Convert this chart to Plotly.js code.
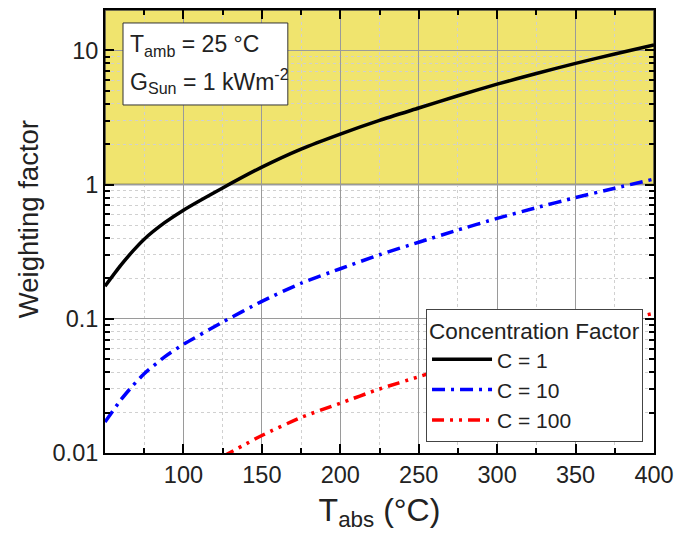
<!DOCTYPE html>
<html>
<head>
<meta charset="utf-8">
<script src="https://cdn.plot.ly/plotly-3.0.1.min.js"></script>
<style>html,body{margin:0;padding:0;background:#fff;}#chart{width:675px;height:536px;}</style>
</head>
<body>
<div id="chart"></div>
<script>
// Absorber temperature (°C)
const tAbs = [50, 60, 68, 75, 88, 100, 125, 150, 175, 200, 225, 250, 275, 300, 325, 350, 375, 400];
// Weighting factor for C = 1
const wC1 = [0.175, 0.25, 0.322, 0.392, 0.52, 0.645, 0.944, 1.35, 1.84, 2.38, 3.01, 3.72, 4.59, 5.6, 6.73, 8.0, 9.4, 11.0];
// Weighting factor for C = 10
const wC10 = [0.017, 0.0248, 0.032, 0.039, 0.052, 0.0645, 0.0944, 0.135, 0.184, 0.236, 0.30, 0.372, 0.459, 0.56, 0.673, 0.80, 0.94, 1.10];
// C = 100 (visible only above 0.01)
const tAbs100 = [125, 150, 175, 200, 225, 250, 275, 300, 325, 350, 375, 400];
const wC100 = [0.0094, 0.0135, 0.0184, 0.0235, 0.030, 0.037, 0.046, 0.056, 0.067, 0.081, 0.095, 0.110];

const seriesNames = ['C = 1', 'C = 10', 'C = 100'];
const xTicks = [50, 100, 150, 200, 250, 300, 350, 400];
const xTickText = ['', '100', '150', '200', '250', '300', '350', '400'];
const yTicks = [0.01, 0.1, 1, 10];
const yTickText = ['0.01', '0.1', '1', '10'];
const shadeFrom = 1, shadeTo = 20;

const font = 'Liberation Sans, Arial, sans-serif';

const traces = [
  {x: tAbs, y: wC1, name: seriesNames[0], mode: 'lines',
   line: {color: '#000000', width: 3.5, shape: 'spline', smoothing: 0.6}},
  {x: tAbs, y: wC10, name: seriesNames[1], mode: 'lines',
   line: {color: '#0000ff', width: 3.5, dash: '13px,6px,3px,6px', shape: 'spline', smoothing: 0.6}},
  {x: tAbs100, y: wC100, name: seriesNames[2], mode: 'lines',
   line: {color: '#ff0000', width: 3.5, dash: '12px,6px,3px,6px,3px,6px', shape: 'spline', smoothing: 0.6}}
];

const layout = {
  width: 675, height: 536,
  margin: {l: 105, r: 21, t: 10, b: 83},
  paper_bgcolor: '#ffffff', plot_bgcolor: '#ffffff',
  font: {family: font, size: 20, color: '#222'},
  showlegend: true,
  xaxis: {
    range: [50, 400], tickvals: xTicks, ticktext: xTickText,
    ticks: 'inside', ticklen: 9, tickwidth: 2, tickcolor: '#000',
    showline: true, linecolor: '#000', linewidth: 2, mirror: 'ticks',
    showgrid: true, gridcolor: '#9a9a9a', gridwidth: 1,
    zeroline: false,
    tickfont: {size: 23.5, color: '#222'},
    minor: {dtick: 25, tick0: 50, ticks: 'inside', ticklen: 5, tickwidth: 2, tickcolor: '#000',
            showgrid: true, gridcolor: '#d0d0d0', griddash: 'dot', gridwidth: 1},
    title: {text: 'T<sub>abs</sub> (°C)', font: {size: 32, color: '#222'}, standoff: 11}
  },
  yaxis: {
    type: 'log', range: [-2, Math.log10(20)],
    tickvals: yTicks, ticktext: yTickText,
    ticks: 'inside', ticklen: 9, tickwidth: 2, tickcolor: '#000',
    showline: true, linecolor: '#000', linewidth: 2, mirror: 'ticks',
    showgrid: true, gridcolor: '#9a9a9a', gridwidth: 1,
    zeroline: false,
    tickfont: {size: 23.5, color: '#222'},
    minor: {dtick: 'D1', ticks: 'inside', ticklen: 5, tickwidth: 2, tickcolor: '#000',
            showgrid: true, gridcolor: '#d0d0d0', griddash: 'dot', gridwidth: 1}
  },
  shapes: [{
    type: 'rect', layer: 'below', xref: 'x domain', x0: 0, x1: 1,
    yref: 'y', y0: shadeFrom, y1: shadeTo,
    fillcolor: '#f0e46e', line: {color: '#444', width: 1.5}
  }, {
    type: 'rect', layer: 'above', xref: 'paper', yref: 'paper',
    x0: 0.0328, x1: 0.333, y0: 0.7856, y1: 0.9707,
    fillcolor: '#ffffff', line: {color: '#333', width: 1}
  }],
  annotations: [{
    xref: 'paper', yref: 'paper', x: 0.042, y: 0.92, xanchor: 'left', yanchor: 'middle',
    text: 'T<sub>amb</sub> = 25 °C', showarrow: false, align: 'left',
    font: {size: 23, color: '#222'}
  }, {
    xref: 'paper', yref: 'paper', x: 0.042, y: 0.84, xanchor: 'left', yanchor: 'middle',
    text: 'G<sub>Sun</sub> = 1 kWm<sup>-2</sup>', showarrow: false, align: 'left',
    font: {size: 23, color: '#222'}
  }, {
    xref: 'paper', yref: 'paper', x: -0.140, y: 0.528, xanchor: 'center', yanchor: 'middle',
    text: 'Weighting factor', textangle: -90, showarrow: false,
    font: {size: 27.5, color: '#222'}
  }],
  legend: {
    x: 0.98, y: 0.025, xanchor: 'right', yanchor: 'bottom',
    bgcolor: '#ffffff', bordercolor: '#444', borderwidth: 1,
    title: {text: 'Concentration Factor', font: {size: 22.5, color: '#222'}},
    font: {size: 21, color: '#222'}, tracegroupgap: 0, itemwidth: 60
  }
};

Plotly.newPlot('chart', traces, layout, {displayModeBar: false, staticPlot: true});
</script>
</body>
</html>
